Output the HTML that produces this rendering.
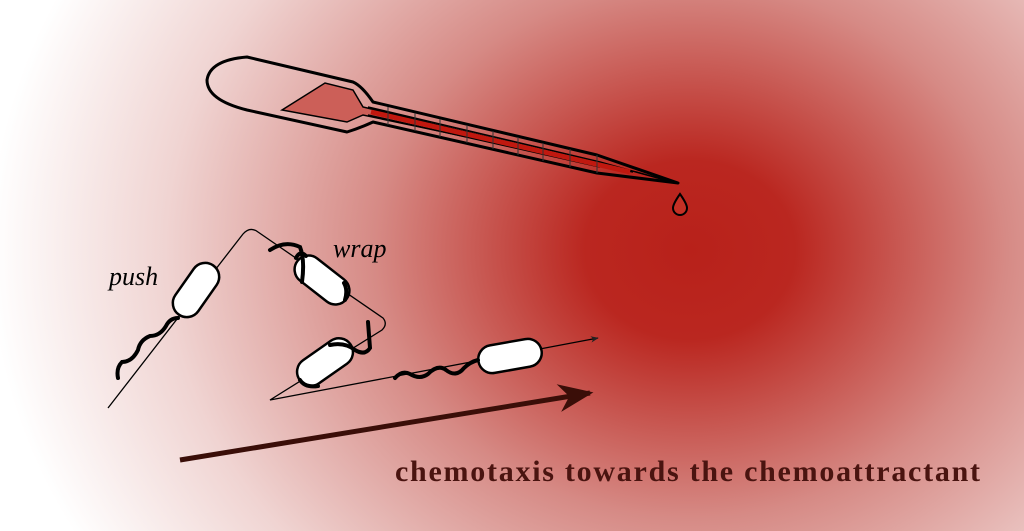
<!DOCTYPE html>
<html><head><style>body{margin:0}svg{display:block}</style></head><body>
<svg width="1024" height="531" viewBox="0 0 1024 531" xmlns="http://www.w3.org/2000/svg">
<defs>
<radialGradient id="bg" gradientUnits="userSpaceOnUse" cx="690" cy="250" r="700" gradientTransform="translate(690 250) scale(1 0.85) translate(-690 -250)">
<stop offset="0" stop-color="#b8211a"/>
<stop offset="0.15" stop-color="#ba2720"/>
<stop offset="0.45" stop-color="#d68a85"/>
<stop offset="0.75" stop-color="#f0d4d2"/>
<stop offset="1" stop-color="#ffffff"/>
</radialGradient>
<marker id="ah" viewBox="0 0 10 10" refX="9" refY="5" markerWidth="8" markerHeight="8" orient="auto" markerUnits="userSpaceOnUse"><path d="M0,1 L10,5 L0,9 L3,5z" fill="#222"/></marker>
<marker id="bh" viewBox="0 0 10 10" refX="9" refY="5" markerWidth="7" markerHeight="7" orient="auto"><path d="M0,1 L10,5 L0,9 L3,5z" fill="#3a0e08"/></marker>
</defs>
<rect width="1024" height="531" fill="url(#bg)"/>
<path d="M247,57 L353,82 Q362,86 373,102 L597,155 L678,183 L597,173 L373,122 Q360,128 347,132 L247,110 Q207,100 207,80 Q210,60 247,57Z" fill="none" stroke="#000" stroke-width="3" stroke-linejoin="round"/>
<path d="M282,110 L325,83 L353,90 L363,107 L633,172 L363,115 L347,122Z" fill="#cc5f58" stroke="#000" stroke-width="1.5"/>
<path d="M368,107 L600,162 L665,180 M368,115 L600,167" fill="none" stroke="#000" stroke-width="1.5"/>
<path d="M371,112 L630,172" stroke="#c0180f" stroke-width="5"/>
<g stroke="#333" stroke-width="1">
<line x1="388" y1="107" x2="388" y2="125"/><line x1="415" y1="113" x2="415" y2="131"/><line x1="440" y1="119" x2="440" y2="137"/><line x1="467" y1="125" x2="467" y2="143"/><line x1="493" y1="131" x2="493" y2="149"/><line x1="518" y1="137" x2="518" y2="155"/><line x1="543" y1="143" x2="543" y2="161"/><line x1="570" y1="149" x2="570" y2="167"/><line x1="597" y1="155" x2="597" y2="173"/>
</g>
<path d="M680,194 Q673,204 673,208 A7,7 0 0 0 687,208 Q687,204 680,194Z" fill="#c43025" stroke="#000" stroke-width="2"/>
<path d="M108,408 L243,234 Q250,226 258,232 L383,318 Q388,324 382,330 L270,400 L598,338" fill="none" stroke="#000" stroke-width="1.3" marker-end="url(#ah)"/>
<g transform="translate(196,290) rotate(-55)"><rect x="-30" y="-14" width="60" height="28" rx="14" fill="#fff" stroke="#000" stroke-width="2.5"/></g>
<path d="M178,318 Q170,318 166,326 Q160,336 150,336 Q140,340 138,350 Q132,362 122,362 Q116,368 118,378" fill="none" stroke="#000" stroke-width="4" stroke-linecap="round"/>
<g transform="translate(322,280) rotate(38)"><rect x="-31" y="-14" width="62" height="28" rx="14" fill="#fff" stroke="#000" stroke-width="2.5"/></g>
<path d="M270,250 Q285,240 300,247 Q305,260 302,282 M296,258 Q300,250 306,256 M344,283 Q348,290 345,300" fill="none" stroke="#000" stroke-width="4" stroke-linecap="round"/>
<g transform="translate(325,362) rotate(-35)"><rect x="-31" y="-14" width="62" height="28" rx="14" fill="#fff" stroke="#000" stroke-width="2.5"/></g>
<path d="M330,345 Q345,342 355,350 Q365,356 370,348 L368,322 M300,380 Q305,388 318,386" fill="none" stroke="#000" stroke-width="4" stroke-linecap="round"/>
<g transform="translate(510,356) rotate(-10)"><rect x="-32" y="-14" width="64" height="28" rx="14" fill="#fff" stroke="#000" stroke-width="2.5"/></g>
<path d="M395,378 Q402,370 410,374 Q420,380 428,374 Q438,364 446,370 Q456,378 464,368 Q470,362 478,360" fill="none" stroke="#000" stroke-width="4" stroke-linecap="round"/>
<text x="109" y="285" font-family="Liberation Serif, serif" font-style="italic" font-size="26" fill="#000">push</text>
<text x="333" y="257" font-family="Liberation Serif, serif" font-style="italic" font-size="26" fill="#000">wrap</text>
<line x1="180" y1="460" x2="590" y2="393" stroke="#3a0e08" stroke-width="5" marker-end="url(#bh)"/>
<text x="395" y="481" font-family="Liberation Serif, serif" font-weight="bold" font-size="30" fill="#4a1410" textLength="585" lengthAdjust="spacing">chemotaxis towards the chemoattractant</text>
</svg>
</body></html>
